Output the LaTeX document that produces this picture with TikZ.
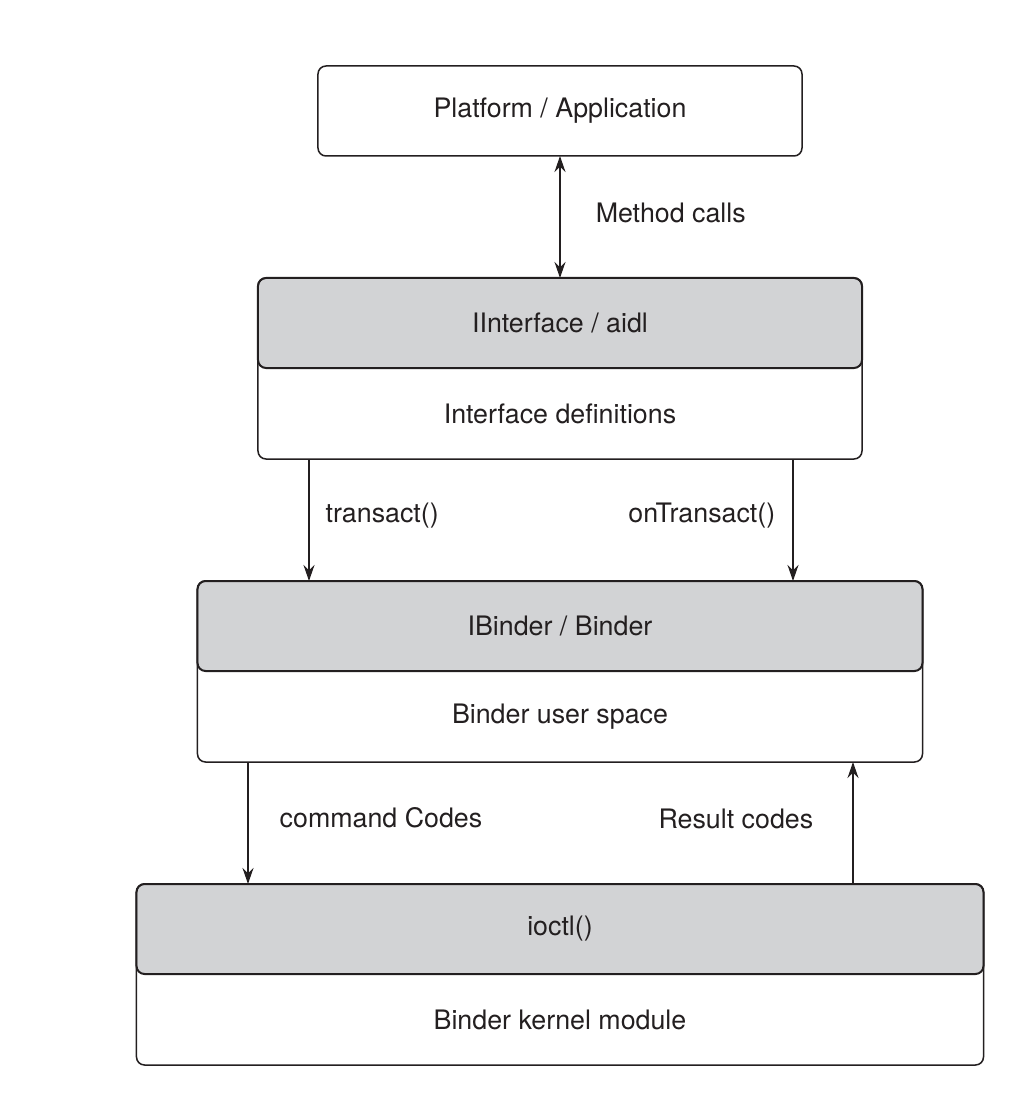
\documentclass[tikz,border=0pt]{standalone}
\usepackage{fontspec}
\setmainfont{TeX Gyre Heros}
\usetikzlibrary{positioning,fit,arrows.meta}

\definecolor{ink}{HTML}{231F20}
\definecolor{boxgray}{HTML}{D2D3D5}

\tikzset{
  layer/.style={rounded corners=4pt, line width=0.75pt, minimum height=45pt, inner sep=0pt, outer sep=0pt},
  head/.style={layer, draw, fill=boxgray, line width=1pt},
  body/.style={layer, minimum height=45.5pt},
  frame/.style={draw, rounded corners=4pt, line width=0.75pt, inner sep=0pt, outer sep=0pt},
  lbl/.style={inner sep=0pt}
}

\begin{document}
\begin{tikzpicture}[color=ink, line width=0.75pt, font=\fontsize{13.4}{16}\selectfont,
    >={Stealth[length=8pt,width=5.5pt]}]
                \useasboundingbox (-280pt,55.5pt) rectangle (235pt,-498pt);
                \node[layer, draw, minimum width=242pt] (plat) {Platform / Application};
                \node[head, minimum width=302pt, below=61pt of plat] (ifhead) {IInterface / aidl};
                \node[body, minimum width=302pt, below=0pt of ifhead] (ifbody) {Interface definitions};
                \node[frame, fit={(ifhead) (ifbody)}] (ifbox) {};
                \node[head, minimum width=362.5pt, below=61pt of ifbody] (bdhead) {IBinder / Binder};
                \node[body, minimum width=362.5pt, below=0pt of bdhead] (bdbody) {Binder user space};
                \node[frame, fit={(bdhead) (bdbody)}] (bdbox) {};
                \node[head, minimum width=423.5pt, below=61pt of bdbody] (knhead) {ioctl()};
                \node[body, minimum width=423.5pt, below=0pt of knhead] (knbody) {Binder kernel module};
                \node[frame, fit={(knhead) (knbody)}] (knbox) {};
                \draw[<->] (plat) -- (ifhead) node[lbl, midway, right=17.5pt, yshift=2pt] {Method calls};
                \draw[->] ([xshift=-125.5pt]ifbox.south) -- ([xshift=-125.5pt]bdbox.north) node[lbl, midway, right=8pt, yshift=2pt] {transact()};
                \draw[->] ([xshift=116.5pt]ifbox.south) -- ([xshift=116.5pt]bdbox.north) node[lbl, midway, left=8.5pt, yshift=2pt] {onTransact()};
                \draw[->] ([xshift=-156pt]bdbox.south) -- ([xshift=-156pt]knbox.north) node[lbl, midway, right=15.5pt, yshift=2.5pt] {command Codes};
                \draw[->] ([xshift=146.5pt]knbox.north) -- ([xshift=146.5pt]bdbox.south) node[lbl, midway, left=19.5pt, yshift=2pt] {Result codes};
\end{tikzpicture}
\end{document}
